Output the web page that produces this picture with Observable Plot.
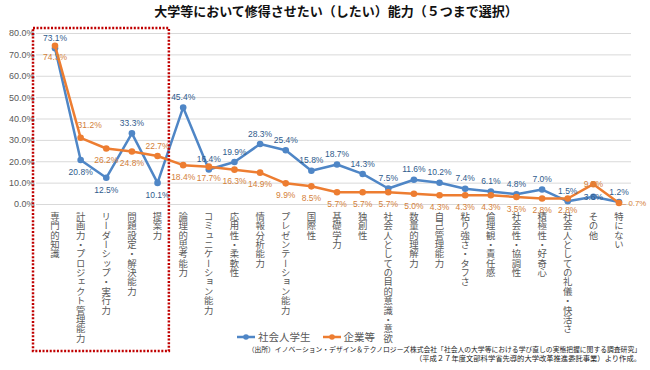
<!DOCTYPE html>
<html><head><meta charset="utf-8">
<script src="https://cdn.jsdelivr.net/npm/d3@7"></script>
<script src="https://cdn.jsdelivr.net/npm/@observablehq/plot@0.6"></script>
<style>
body{margin:0;background:#fff;}
#wrap{position:relative;width:650px;height:370px;overflow:hidden;font-family:"Noto Sans CJK JP",sans-serif;}
#chart{position:absolute;left:0;top:0;}
#title{position:absolute;left:0;top:2px;width:672px;text-align:center;font-weight:bold;font-size:13px;color:#111;line-height:18px;}
#legend{position:absolute;left:237px;top:329px;display:flex;align-items:center;font-size:10.5px;color:#595959;line-height:16px;}
#legend .item{display:flex;align-items:center;margin-right:12px;}
#legend svg{margin-right:3px;}
#caption{position:absolute;right:9px;top:345px;text-align:right;color:#222;line-height:9px;white-space:nowrap;}
</style></head>
<body>
<div id="wrap">
  <div id="chart"></div>
  <div id="title"></div>
  <div id="legend"></div>
  <div id="caption"></div>
</div>
<script>
const titleText = "大学等において修得させたい（したい）能力（５つまで選択）";
const categories = ["専門的知識","計画力・プロジェクト管理能力","リーダーシップ・実行力","問題設定・解決能力","提案力","論理的思考能力","コミュニケーション能力","応用性・柔軟性","情報分析能力","プレゼンテーション能力","国際性","基礎学力","独創性","社会人としての目的意識・意欲","数量的理解力","自己管理能力","粘り強さ・タフさ","倫理観・責任感","社会性・協調性","積極性・好奇心","社会人としての礼儀・快活さ","その他","特にない"];
const seriesNames = ["社会人学生","企業等"];
const shakaijin = [73.1,20.8,12.5,33.3,10.1,45.4,16.4,19.9,28.3,25.4,15.8,18.7,14.3,7.5,11.6,10.2,7.4,6.1,4.8,7.0,1.5,3.6,1.2];
const kigyou = [74.3,31.2,26.2,24.8,22.7,18.4,17.7,16.3,14.9,9.9,8.5,5.7,5.7,5.7,5.0,4.3,4.3,4.3,3.5,2.8,2.8,9.5,0.7];
const yTicks = [0,10,20,30,40,50,60,70,80];
const captionLines = ["（出所）イノベーション・デザイン＆テクノロジーズ株式会社「社会人の大学等における学び直しの実態把握に関する調査研究」","（平成２７年度文部科学省先導的大学改革推進委託事業）より作成。"];

// label placement (style, not data)
const blueLabelPos = ["above","below","below","above","below","above","above","above","above","above","above","above","above","above","above","above","above","above","above","above","above","center","above"];
const orangeLabelPos = ["below","aboveR","below","below","above","below","below","below","below","below","below","below","below","below","below","below","below","below","below","below","below","center","right"];

const colors = ["#4f86c6","#ed7d31"];
const labelColors = ["#2f5b8c","#d4813a"];

const rows = [];
categories.forEach((c,i)=>{
  rows.push({cat:c, value:shakaijin[i], s:0, pos:blueLabelPos[i]});
  rows.push({cat:c, value:kigyou[i], s:1, pos:orangeLabelPos[i]});
});
const fmt = v => v.toFixed(1) + "%";
const numFont = "Liberation Sans, Arial, sans-serif";

function labelMarks(s){
  const d = rows.filter(r=>r.s===s);
  const base = {x:"cat", y:"value", text:r=>fmt(r.value), fill:labelColors[s], fontSize:8.5, fontFamily:numFont};
  return [
    Plot.text(d.filter(r=>r.pos==="above"), {...base, dy:-10}),
    Plot.text(d.filter(r=>r.pos==="aboveR"), {...base, dy:-13, dx:9}),
    Plot.text(d.filter(r=>r.pos==="below"), {...base, dy:12}),
    Plot.text(d.filter(r=>r.pos==="center"), {...base, dy:0}),
    Plot.text(d.filter(r=>r.pos==="right"), {...base, text:r=>"– "+fmt(r.value), fontSize:7.8, textAnchor:"start", dx:3})
  ];
}

const plot = Plot.plot({
  width:650, height:370,
  marginTop:33, marginBottom:166, marginLeft:36, marginRight:19,
  style:{fontFamily:"Noto Sans CJK JP, sans-serif", background:"transparent", overflow:"visible"},
  x:{type:"point", domain:categories, range:[54.5,618.5], padding:0, round:false, axis:null},
  y:{domain:[0,80], axis:null},
  marks:[
    Plot.gridY(yTicks, {stroke:"#d9d9d9", strokeOpacity:1, strokeWidth:1}),
    Plot.axisY(yTicks, {tickSize:0, tickPadding:2, tickFormat:d=>d.toFixed(1)+"%", fontSize:9, fill:"#595959", fontFamily:numFont, label:null}),
    Plot.line(rows.filter(r=>r.s===0), {x:"cat", y:"value", stroke:colors[0], strokeWidth:2.5}),
    Plot.dot(rows.filter(r=>r.s===0), {x:"cat", y:"value", r:3.3, fill:colors[0]}),
    Plot.line(rows.filter(r=>r.s===1), {x:"cat", y:"value", stroke:colors[1], strokeWidth:2.5}),
    Plot.dot(rows.filter(r=>r.s===1), {x:"cat", y:"value", r:3.3, fill:colors[1]}),
    ...labelMarks(0),
    ...labelMarks(1),
    Plot.text(categories, {x:d=>d, y:()=>0, text:d=>d, dy:7, textAnchor:"start", lineAnchor:"bottom", fontSize:9.4, fill:"#595959", className:"vlab"})
  ]
});

// vertical writing for category labels
d3.select(plot).selectAll(".vlab text").attr("writing-mode","vertical-rl").attr("dy",null).style("text-orientation","mixed");

// red dotted highlight box around first five categories
const xs = plot.scale("x"), ys = plot.scale("y");
const bx1 = xs.apply(categories[0]) - 21.5;
const bx2 = (xs.apply(categories[4]) + xs.apply(categories[5]))/2 - 1;
const by1 = ys.apply(80) - 5;
const by2 = 351;
d3.select(plot).append("rect")
  .attr("x",bx1).attr("y",by1).attr("width",bx2-bx1).attr("height",by2-by1)
  .attr("fill","none").attr("stroke","#c00000").attr("stroke-width",2.5)
  .attr("stroke-dasharray","2 1.6");

document.getElementById("chart").appendChild(plot);
document.getElementById("title").textContent = titleText;

// legend
const lg = d3.select("#legend");
seriesNames.forEach((n,i)=>{
  const it = lg.append("div").attr("class","item");
  const sv = it.append("svg").attr("width",18).attr("height",8);
  sv.append("line").attr("x1",0).attr("x2",18).attr("y1",4).attr("y2",4).attr("stroke",colors[i]).attr("stroke-width",2.5);
  sv.append("circle").attr("cx",9).attr("cy",4).attr("r",2.8).attr("fill",colors[i]);
  it.append("span").text(n);
});

// caption
const cp = d3.select("#caption");
cp.append("div").style("font-size","6.8px").text(captionLines[0]);
cp.append("div").style("font-size","7.3px").text(captionLines[1]);
</script>
</body></html>
